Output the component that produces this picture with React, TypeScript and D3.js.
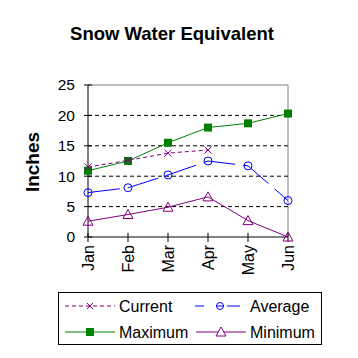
import React from 'react';
import * as d3 from 'd3';

const months = ['Jan', 'Feb', 'Mar', 'Apr', 'May', 'Jun'];
const current = [11.5, 12.6, 13.8, 14.3];
const average = [7.3, 8.1, 10.2, 12.5, 11.7, 6.0];
const maximum = [10.9, 12.5, 15.5, 18.0, 18.7, 20.3];
const minimum = [2.6, 3.7, 4.9, 6.6, 2.7, 0.0];
const yTicks = [0, 5, 10, 15, 20, 25];

const FONT = 'Arial, "Liberation Sans", sans-serif';

const App = () => {
  const margin = { top: 85, left: 88 };
  const width = 200, height = 152;

  const x = d3.scalePoint().domain(months).range([0, width]);
  const y = d3.scaleLinear().domain([0, 25]).range([height, 0]);

  const line = d3.line<number>()
    .x((d, i) => x(months[i]) as number)
    .y(d => y(d));

  const tri = (cx, cy, s) => `M${cx},${cy - s}L${cx + s},${cy + s * 0.8}L${cx - s},${cy + s * 0.8}Z`;
  const cross = (cx, cy, s) => `M${cx - s},${cy - s}L${cx + s},${cy + s}M${cx + s},${cy - s}L${cx - s},${cy + s}`;

  return (
    <svg width={358} height={358} style={{ position: 'absolute', left: 0, top: 0, background: '#fff' }}>
      <rect width={358} height={358} fill="#fff" />
      <text x={172} y={40} textAnchor="middle" fontFamily={FONT} fontWeight="bold" fontSize={18.5}>
        Snow Water Equivalent
      </text>
      <text transform="translate(39,162) rotate(-90)" textAnchor="middle" fontFamily={FONT} fontWeight="bold" fontSize={19}>
        Inches
      </text>
      <g transform={`translate(${margin.left},${margin.top})`}>
        {/* border */}
        <path d={`M0,0H${width}V${height}`} fill="none" stroke="#808080" />
        {/* grid */}
        {yTicks.filter(t => t > 0 && t < 25).map(t => (
          <line key={t} x1={0} x2={width} y1={y(t)} y2={y(t)} stroke="#000" strokeDasharray="4,3" />
        ))}
        {/* axes */}
        <line x1={0} x2={0} y1={0} y2={height} stroke="#000" />
        <line x1={0} x2={width} y1={height} y2={height} stroke="#000" />
        {yTicks.map(t => (
          <g key={t}>
            <line x1={-4} x2={4} y1={y(t)} y2={y(t)} stroke="#000" />
            <text x={-13} y={y(t)} dy="0.35em" textAnchor="end" fontFamily={FONT} fontSize={15.5}>{t}</text>
          </g>
        ))}
        {months.map(m => (
          <g key={m}>
            <line x1={x(m)} x2={x(m)} y1={height - 4} y2={height + 5} stroke="#000" />
            <text transform={`translate(${x(m)},${height + 8}) rotate(-90)`} dy="0.35em" textAnchor="end" fontFamily={FONT} fontSize={16}>{m}</text>
          </g>
        ))}

        {/* minimum */}
        <path d={line(minimum)} fill="none" stroke="#800080" />
        {minimum.map((v, i) => (
          <path key={i} d={tri(x(months[i]), y(v), 5)} fill="none" stroke="#800080" />
        ))}
        {/* average */}
        <path d={line(average)} fill="none" stroke="#0000ff" strokeDasharray="32,8" />
        {average.map((v, i) => (
          <circle key={i} cx={x(months[i])} cy={y(v)} r={4} fill="none" stroke="#0000ff" />
        ))}
        {/* maximum */}
        <path d={line(maximum)} fill="none" stroke="#008000" />
        {maximum.map((v, i) => (
          <rect key={i} x={(x(months[i]) as number) - 4} y={y(v) - 4} width={8} height={8} fill="#008000" />
        ))}
        {/* current */}
        <path d={line(current)} fill="none" stroke="#800080" strokeDasharray="4,3" />
        {current.map((v, i) => (
          <path key={i} d={cross(x(months[i]), y(v), 3.5)} fill="none" stroke="#800080" />
        ))}
      </g>

      {/* legend */}
      <g>
        <rect x={58.5} y={292.5} width={263} height={52} fill="#fff" stroke="#000" />
        <g fontFamily={FONT} fontSize={16}>
          <line x1={65} x2={115} y1={306} y2={306} stroke="#800080" strokeDasharray="4,3" />
          <path d={cross(90, 306, 3)} stroke="#800080" />
          <text x={119} y={306} dy="0.35em">Current</text>

          <line x1={195} x2={204} y1={306} y2={306} stroke="#0000ff" />
          <line x1={227} x2={240} y1={306} y2={306} stroke="#0000ff" />
          <circle cx={220} cy={306} r={3.5} fill="none" stroke="#0000ff" />
          <line x1={216} x2={224} y1={306} y2={306} stroke="#0000ff" />
          <text x={250} y={306} dy="0.35em">Average</text>

          <line x1={65} x2={115} y1={332} y2={332} stroke="#008000" />
          <rect x={86} y={328} width={8} height={8} fill="#008000" />
          <text x={119} y={332} dy="0.35em">Maximum</text>

          <line x1={196} x2={246} y1={332} y2={332} stroke="#800080" />
          <path d={tri(221, 332, 5)} fill="#fff" stroke="#800080" />
          <text x={250} y={332} dy="0.35em">Minimum</text>
        </g>
      </g>
    </svg>
  );
};

export default App;
